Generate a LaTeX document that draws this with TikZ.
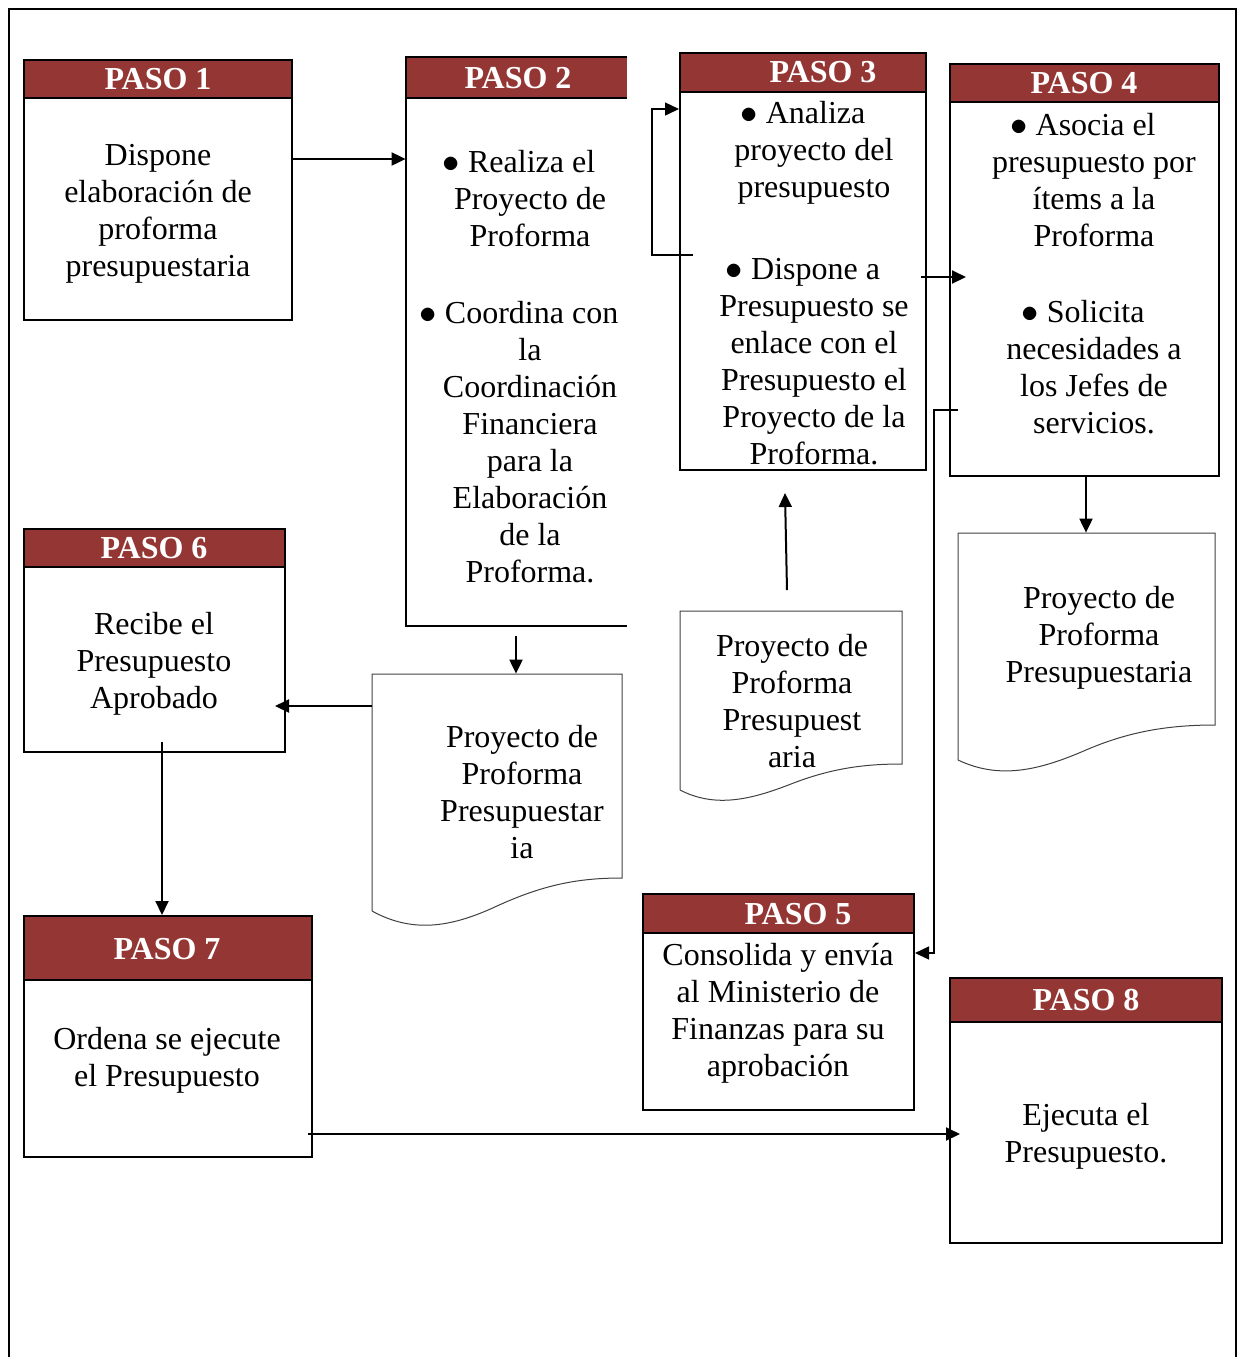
\documentclass[tikz,border=0pt]{standalone}
\usepackage{fontspec}
\setmainfont{Liberation Serif}
\usetikzlibrary{arrows.meta,fit}
\definecolor{hdrred}{RGB}{148,54,52}
% bulleted line, set slightly left of the centre like a hanging-indent item
\newcommand{\itemline}[1]{\makebox[0pt]{\kern-11pt$\bullet$\ #1}}
\begin{document}
\begin{tikzpicture}[x=0.5pt,y=-0.5pt,
  frame/.style={line width=1pt},
  boxline/.style={draw,line width=1pt,inner sep=0pt},
  hdr/.style={fill=hdrred,draw,line width=1pt,inner sep=0pt},
  hdrtext/.style={text=white,font=\fontsize{16}{18.5}\selectfont\bfseries},
  body/.style={align=center,font=\fontsize{16}{18.5}\selectfont,inner sep=0pt},
  docshape/.style={draw=black!75,line width=0.5pt},
  area/.style={inner sep=0pt},
  arr/.style={line width=1pt,-{Triangle[length=7pt,width=6.5pt]}},
  thinarr/.style={line width=0.7pt,-{Triangle[length=7pt,width=6.5pt]}}]
\useasboundingbox (0,0) rectangle (1239,1357);

% outer frame, open at the bottom
\draw[frame] (9,1357) -- (9,9) -- (1236,9) -- (1236,1357);

% PASO 1
\node[hdr,fit={(24,60)(292,98)}] (h1) {};
\node[boxline,fit={(24,60)(292,320)}] (b1) {};
\node[hdrtext] at (158,79) {PASO 1};
\node[body] (t1) at (158,214) {Dispone\\elaboración de\\proforma\\presupuestaria};

% PASO 2 (open on the right)
\node[fill=hdrred,inner sep=0pt,fit={(406,57)(627,98)}] (h2) {};
\node[area,fit={(406,57)(627,626)}] (b2) {};
\draw[frame] (b2.north east) -- (b2.north west) -- (b2.south west) -- (b2.south east);
\draw[frame] (h2.south west) -- (h2.south east);
\node[hdrtext] at (518,78) {PASO 2};
\node[body] (t2) at (530,367) {\itemline{Realiza el}\\Proyecto de\\Proforma\\[20pt]\itemline{Coordina con}\\la\\Coordinación\\Financiera\\para la\\Elaboración\\de la\\Proforma.};

% PASO 3
\node[hdr,fit={(680,53)(926,92)}] (h3) {};
\node[boxline,fit={(680,53)(926,470)}] (b3) {};
\node[hdrtext] at (823,72) {PASO 3};
\node[body] (t3) at (814,283) {\itemline{Analiza}\\proyecto del\\presupuesto\\[22.5pt]\itemline{Dispone a}\\Presupuesto se\\enlace con el\\Presupuesto el\\Proyecto de la\\Proforma.};

% PASO 4
\node[hdr,fit={(950,64)(1219,102)}] (h4) {};
\node[boxline,fit={(950,64)(1219,476)}] (b4) {};
\node[hdrtext] at (1084,83) {PASO 4};
\node[body] (t4) at (1094,274) {\itemline{Asocia el}\\presupuesto por\\ítems a la\\Proforma\\[19.5pt]\itemline{Solicita}\\necesidades a\\los Jefes de\\servicios.};

% PASO 6
\node[hdr,fit={(24,529)(285,567)}] (h6) {};
\node[boxline,fit={(24,529)(285,752)}] (b6) {};
\node[hdrtext] at (154,548) {PASO 6};
\node[body] (t6) at (154,664) {Recibe el\\Presupuesto\\Aprobado};

% PASO 7
\node[hdr,fit={(24,916)(312,980)}] (h7) {};
\node[boxline,fit={(24,916)(312,1157)}] (b7) {};
\node[hdrtext] at (167,949) {PASO 7};
\node[body] (t7) at (167,1060) {Ordena se ejecute\\el Presupuesto};

% PASO 5
\node[hdr,fit={(643,894)(914,933)}] (h5) {};
\node[boxline,fit={(643,894)(914,1110)}] (b5) {};
\node[hdrtext] at (798,914) {PASO 5};
\node[body] (t5) at (778,1013) {Consolida y envía\\al Ministerio de\\Finanzas para su\\aprobación};

% PASO 8
\node[hdr,fit={(950,978)(1222,1022)}] (h8) {};
\node[boxline,fit={(950,978)(1222,1243)}] (b8) {};
\node[hdrtext] at (1086,1000) {PASO 8};
\node[body] (t8) at (1086,1136) {Ejecuta el\\Presupuesto.};

% document shapes
\node[area,fit={(372,674)(622,911)}] (dA) {};
\draw[docshape] (372,911) -- (372,674) -- (622,674) -- (622,878)
  .. controls (580,878) and (545,884) .. (497,906)
  .. controls (450,928) and (412,933) .. (372,911);
\node[body] (tA) at (522,792) {Proyecto de\\Proforma\\Presupuestar\\ia};

\node[area,fit={(680,611)(902,790)}] (dB) {};
\draw[docshape] (680,790) -- (680,611) -- (902,611) -- (902,764)
  .. controls (865,764) and (832,768) .. (791,784)
  .. controls (750,800) and (715,808) .. (680,790);
\node[body] (tB) at (792,701) {Proyecto de\\Proforma\\Presupuest\\aria};

\node[area,fit={(958,533)(1215,760)}] (dC) {};
\draw[docshape] (958,760) -- (958,533) -- (1215,533) -- (1215,725)
  .. controls (1170,725) and (1130,731) .. (1086,750)
  .. controls (1040,770) and (1000,780) .. (958,760);
\node[body] (tC) at (1099,638) {Proyecto de\\Proforma\\Presupuestaria};

% connector end points
\coordinate (loopstart) at (693,255);
\coordinate (p3out) at (921,277);
\coordinate (p4in) at (966,277);
\coordinate (dBout) at (787,590);
\coordinate (p3in) at (785,493);
\coordinate (p2out) at (516,636);
\coordinate (p6in) at (275,706);
\coordinate (p6out) at (162,742);
\coordinate (p4out) at (958,410);
\coordinate (p7out) at (308,1134);
\coordinate (p8in) at (960,1134);

% connectors
\draw[arr] (b1.east |- 0,159) -- (b2.west |- 0,159);
\draw[thinarr] (loopstart) -| (652,109) -- (b3.west |- 0,109);
\draw[arr] (p3out) -- (p4in);
\draw[arr] (b4.south -| 1086,0) -- (dC.north -| 1086,0);
\draw[arr] (dBout) -- (p3in);
\draw[arr] (p2out) -- (dA.north -| p2out);
\draw[arr] (dA.west |- p6in) -- (p6in);
\draw[arr] (p6out) -- (b7.north -| p6out);
\draw[thinarr] (p4out) -| (934,953) -- (b5.east |- 0,953);
\draw[arr] (p7out) -- (p8in);
\end{tikzpicture}
\end{document}
